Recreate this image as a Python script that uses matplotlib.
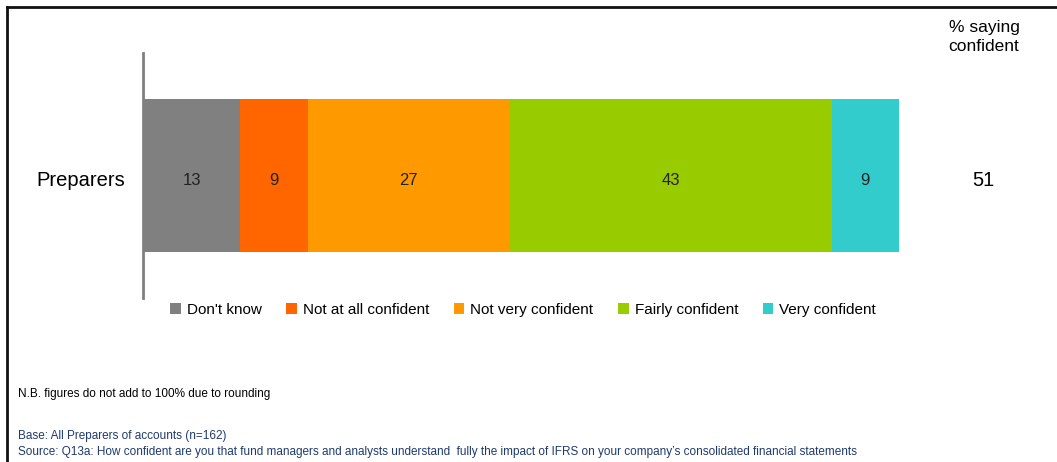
import matplotlib
matplotlib.use("Agg")
import matplotlib.pyplot as plt
from matplotlib.patches import Patch
from matplotlib.lines import Line2D

plt.rcParams['font.family'] = ['Liberation Sans', 'DejaVu Sans']

category = "Preparers"
segments = ["Don't know", "Not at all confident", "Not very confident",
            "Fairly confident", "Very confident"]
values = [13, 9, 27, 43, 9]
colors = ["#808080", "#FF6600", "#FF9900", "#99CC00", "#33CCCC"]
confident_label = "% saying\nconfident"
confident_value = 51

W, H = 1057, 462
fig = plt.figure(figsize=(W / 100, H / 100), dpi=100)

# axes placement (pixels -> fraction)
x0, x1 = 143, 899
y_top, y_bot = 53, 298
ax = fig.add_axes([x0 / W, 1 - y_bot / H, (x1 - x0) / W, (y_bot - y_top) / H])

left = 0
for v, c, name in zip(values, colors, segments):
    ax.barh(0, v, left=left, height=1.0, color=c, edgecolor='none', label=name)
    ax.text(left + v / 2, -0.03, str(v), ha='center', va='center', fontsize=12, color='#222222')
    left += v

ax.set_xlim(0, sum(values))
ax.set_ylim(-0.8, 0.8)
for s in ['top', 'right', 'bottom']:
    ax.spines[s].set_visible(False)
ax.spines['left'].set_color('#808080')
ax.spines['left'].set_linewidth(2)
ax.set_xticks([])
ax.set_yticks([])

# category label
fig.text(81 / W, 1 - 180 / H, category, ha='center', va='center', fontsize=14.5, color='black')
# % saying confident
fig.text(984 / W, 1 - 37 / H, confident_label, ha='center', va='center', fontsize=12.5,
         color='black', linespacing=1.3)
fig.text(983 / W, 1 - 180 / H, str(confident_value), ha='center', va='center', fontsize=14.5,
         color='black')

# legend
handles = [Patch(facecolor=c, edgecolor='none') for c in colors]
fig.legend(handles, segments, loc='center', bbox_to_anchor=(523 / W, 1 - 310 / H),
           ncol=5, frameon=False, fontsize=11, handlelength=0.7, handleheight=0.7,
           handletextpad=0.4, columnspacing=1.6, borderaxespad=0, borderpad=0)

# footnotes
fig.text(18 / W, 1 - 394 / H, "N.B. figures do not add to 100% due to rounding",
         ha='left', va='center', fontsize=8.5, color='black')
fig.text(18 / W, 1 - 436 / H, "Base: All Preparers of accounts (n=162)",
         ha='left', va='center', fontsize=8.5, color='#1F3A6E')
fig.text(18 / W, 1 - 452 / H,
         "Source: Q13a: How confident are you that fund managers and analysts understand  fully the impact of IFRS on your company\u2019s consolidated financial statements",
         ha='left', va='center', fontsize=8.5, color='#1F3A6E')

# frame lines (top and left)
fig.add_artist(Line2D([7 / W, 1], [1 - 7 / H, 1 - 7 / H], transform=fig.transFigure,
                      color='#111111', linewidth=2))
fig.add_artist(Line2D([7 / W, 7 / W], [0, 1 - 7 / H], transform=fig.transFigure,
                      color='#111111', linewidth=2))

fig.savefig("out.png", dpi=100)
